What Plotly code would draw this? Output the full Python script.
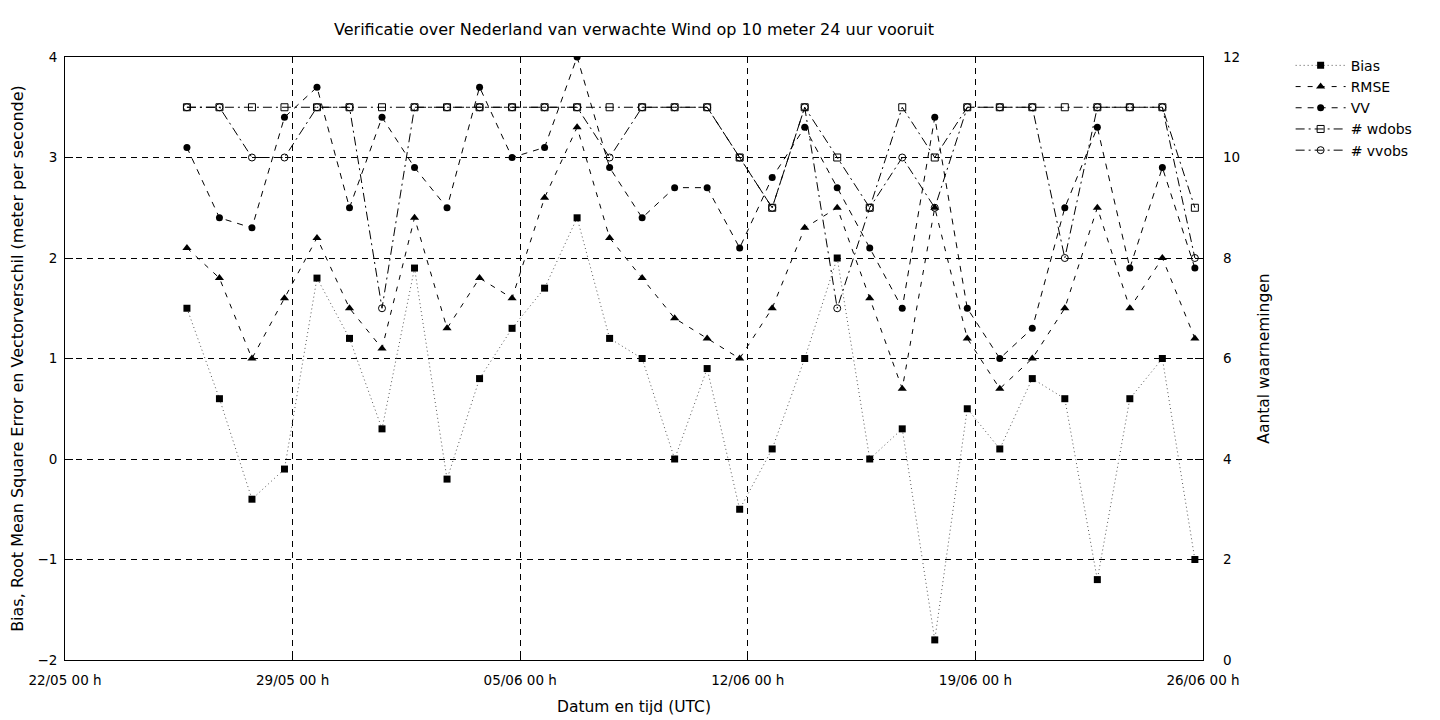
import plotly.graph_objects as go

dates = [
    "2023-05-25 18:00", "2023-05-26 18:00", "2023-05-27 18:00", "2023-05-28 18:00",
    "2023-05-29 18:00", "2023-05-30 18:00", "2023-05-31 18:00", "2023-06-01 18:00",
    "2023-06-02 18:00", "2023-06-03 18:00", "2023-06-04 18:00", "2023-06-05 18:00",
    "2023-06-06 18:00", "2023-06-07 18:00", "2023-06-08 18:00", "2023-06-09 18:00",
    "2023-06-10 18:00", "2023-06-11 18:00", "2023-06-12 18:00", "2023-06-13 18:00",
    "2023-06-14 18:00", "2023-06-15 18:00", "2023-06-16 18:00", "2023-06-17 18:00",
    "2023-06-18 18:00", "2023-06-19 18:00", "2023-06-20 18:00", "2023-06-21 18:00",
    "2023-06-22 18:00", "2023-06-23 18:00", "2023-06-24 18:00", "2023-06-25 18:00",
]
bias = [1.5, 0.6, -0.4, -0.1, 1.8, 1.2, 0.3, 1.9, -0.2, 0.8, 1.3, 1.7, 2.4, 1.2, 1.0, 0.0,
        0.9, -0.5, 0.1, 1.0, 2.0, 0.0, 0.3, -1.8, 0.5, 0.1, 0.8, 0.6, -1.2, 0.6, 1.0, -1.0]
rmse = [2.1, 1.8, 1.0, 1.6, 2.2, 1.5, 1.1, 2.4, 1.3, 1.8, 1.6, 2.6, 3.3, 2.2, 1.8, 1.4,
        1.2, 1.0, 1.5, 2.3, 2.5, 1.6, 0.7, 2.5, 1.2, 0.7, 1.0, 1.5, 2.5, 1.5, 2.0, 1.2]
vv = [3.1, 2.4, 2.3, 3.4, 3.7, 2.5, 3.4, 2.9, 2.5, 3.7, 3.0, 3.1, 4.0, 2.9, 2.4, 2.7,
      2.7, 2.1, 2.8, 3.3, 2.7, 2.1, 1.5, 3.4, 1.5, 1.0, 1.3, 2.5, 3.3, 1.9, 2.9, 1.9]
wdobs = [11, 11, 11, 11, 11, 11, 11, 11, 11, 11, 11, 11, 11, 11, 11, 11,
         11, 10, 9, 11, 10, 9, 11, 10, 11, 11, 11, 11, 11, 11, 11, 9]
vvobs = [11, 11, 10, 10, 11, 11, 7, 11, 11, 11, 11, 11, 11, 10, 11, 11,
         11, 10, 9, 11, 7, 9, 10, 9, 11, 11, 11, 8, 11, 11, 11, 8]

x_range = ["2023-05-22 00:00", "2023-06-26 00:00"]
title_text = "Verificatie over Nederland van verwachte Wind op 10 meter 24 uur vooruit"
y_title = "Bias, Root Mean Square Error en Vectorverschil (meter per seconde)"
y2_title = "Aantal waarnemingen"
x_title = "Datum en tijd (UTC)"

FONT = "DejaVu Sans, Liberation Sans, sans-serif"

fig = go.Figure()
fig.add_trace(go.Scatter(x=dates, y=bias, name="Bias", mode="lines+markers",
                         line=dict(color="#555555", width=1, dash="1px,3px"),
                         marker=dict(symbol="square", size=7, color="black")))
fig.add_trace(go.Scatter(x=dates, y=rmse, name="RMSE", mode="lines+markers",
                         line=dict(color="black", width=1, dash="5px,7px"),
                         marker=dict(symbol="triangle-up", size=8, color="black")))
fig.add_trace(go.Scatter(x=dates, y=vv, name="VV", mode="lines+markers",
                         line=dict(color="black", width=1, dash="6px,6px"),
                         marker=dict(symbol="circle", size=7, color="black")))
fig.add_trace(go.Scatter(x=dates, y=wdobs, name="# wdobs", mode="lines+markers", yaxis="y2",
                         line=dict(color="black", width=1, dash="9px,4px,2px,4px"),
                         marker=dict(symbol="square-open", size=7, color="black",
                                     line=dict(width=1, color="black"))))
fig.add_trace(go.Scatter(x=dates, y=vvobs, name="# vvobs", mode="lines+markers", yaxis="y2",
                         line=dict(color="black", width=1, dash="9px,4px,2px,4px"),
                         marker=dict(symbol="circle-open", size=7, color="black",
                                     line=dict(width=1, color="black"))))

# the page body adds an 8px offset; margins compensate so the plot box sits at 65..1203 x 57..660
fig.update_layout(
    width=1440, height=720,
    margin=dict(l=57, r=245, t=49, b=68, autoexpand=False),
    paper_bgcolor="white", plot_bgcolor="white",
    font=dict(family=FONT, size=13.5, color="black"),
    title=dict(text=title_text, x=(57 + 1195) / 2 / 1440, xanchor="center",
               y=1 - 21 / 720, yanchor="middle", font=dict(size=16)),
    showlegend=True,
    legend=dict(x=1.077, y=1.012, xanchor="left", yanchor="top", bgcolor="rgba(0,0,0,0)",
                font=dict(size=14), tracegroupgap=0, itemwidth=50),
    xaxis=dict(
        type="date", range=x_range, dtick=7 * 24 * 3600 * 1000, tick0="2023-05-22",
        tickformat="%d/%m %H h", showgrid=True, gridcolor="black", griddash="6px,5px",
        gridwidth=1, showline=True, linecolor="black", linewidth=1, mirror=True,
        ticks="inside", ticklen=8, tickcolor="black", zeroline=False, automargin=False,
        ticklabelstandoff=8,
        title=dict(text=x_title, standoff=13, font=dict(size=15.5)),
    ),
    yaxis=dict(
        range=[-2, 4], dtick=1, showgrid=True, gridcolor="black", griddash="6px,5px",
        gridwidth=1, showline=True, linecolor="black", linewidth=1, mirror=True,
        ticks="inside", ticklen=8, tickcolor="black", zeroline=False, automargin=False,
        ticklabelstandoff=4,
        title=dict(text=y_title, standoff=13, font=dict(size=16)),
    ),
    yaxis2=dict(
        range=[0, 12], dtick=2, overlaying="y", side="right", showgrid=False,
        showline=False, ticks="inside", ticklen=8, tickcolor="black", zeroline=False,
        automargin=False, ticklabelstandoff=19,
        title=dict(text=y2_title, standoff=18, font=dict(size=15.5)),
    ),
)

fig.write_html("out.html")
